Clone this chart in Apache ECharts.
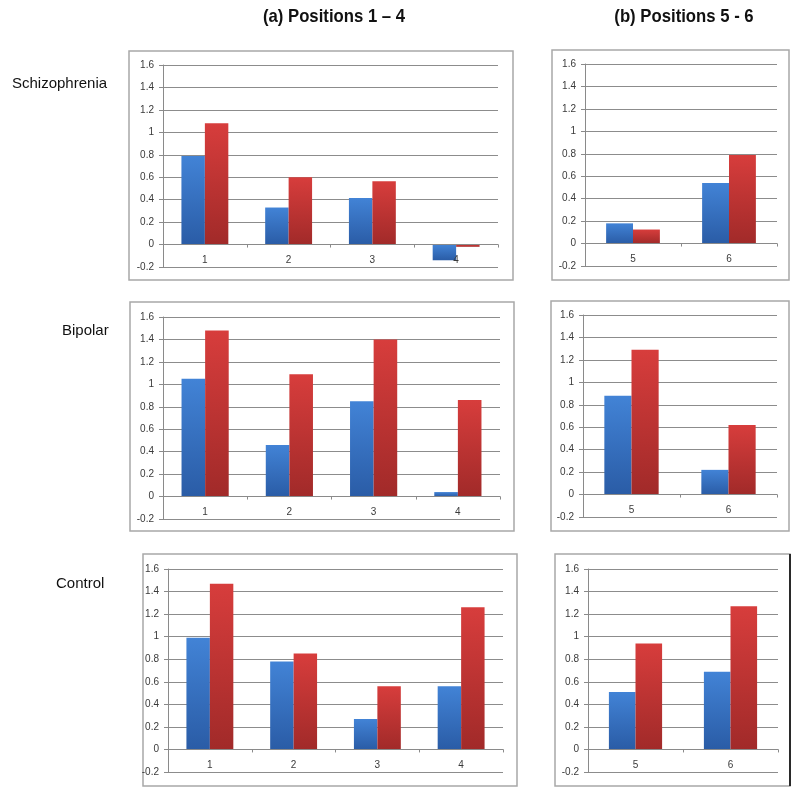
<!DOCTYPE html>
<html><head><meta charset="utf-8">
<script src="https://cdn.jsdelivr.net/npm/echarts@6/dist/echarts.min.js"></script>
<style>html,body{margin:0;padding:0;background:#fff}#c{width:800px;height:794px}</style>
</head><body><div id="c"></div>
<script>
// ---- data ----
const catsA = ['1', '2', '3', '4'];
const catsB = ['5', '6'];
const yMin = -0.2, yMax = 1.6, yStep = 0.2;

const schizA_blue = [0.79, 0.33, 0.415, -0.14];
const schizA_red  = [1.08, 0.60, 0.565, -0.02];
const schizB_blue = [0.18, 0.54];
const schizB_red  = [0.125, 0.79];

const bipolarA_blue = [1.05, 0.46, 0.85, 0.04];
const bipolarA_red  = [1.48, 1.09, 1.40, 0.86];
const bipolarB_blue = [0.88, 0.22];
const bipolarB_red  = [1.29, 0.62];

const controlA_blue = [0.99, 0.78, 0.27, 0.56];
const controlA_red  = [1.47, 0.85, 0.56, 1.26];
const controlB_blue = [0.51, 0.69];
const controlB_red  = [0.94, 1.27];

const colTitles = ['(a) Positions 1 \u2013 4', '(b) Positions 5 - 6'];
const rowTitles = ['Schizophrenia', 'Bipolar', 'Control'];

// ---- layout ----
const panels = [
  {cats: catsA, blue: schizA_blue,   red: schizA_red,   grid: {left: 163, top: 65,  width: 335, height: 202}, box: [129, 51, 384, 229]},
  {cats: catsB, blue: schizB_blue,   red: schizB_red,   grid: {left: 585, top: 64,  width: 192, height: 202}, box: [552, 50, 237, 230]},
  {cats: catsA, blue: bipolarA_blue, red: bipolarA_red, grid: {left: 163, top: 317, width: 337, height: 202}, box: [130, 302, 384, 229]},
  {cats: catsB, blue: bipolarB_blue, red: bipolarB_red, grid: {left: 583, top: 315, width: 194, height: 202}, box: [551, 301, 238, 230]},
  {cats: catsA, blue: controlA_blue, red: controlA_red, grid: {left: 168, top: 569, width: 335, height: 203}, box: [143, 554, 374, 232]},
  {cats: catsB, blue: controlB_blue, red: controlB_red, grid: {left: 588, top: 569, width: 190, height: 203}, box: [555, 554, 235, 232]}
];

const blueGrad = new echarts.graphic.LinearGradient(0, 0, 0, 1, [
  {offset: 0, color: '#4283d6'}, {offset: 1, color: '#2a5ca6'}]);
const redGrad = new echarts.graphic.LinearGradient(0, 0, 0, 1, [
  {offset: 0, color: '#d73d3c'}, {offset: 1, color: '#a12a29'}]);

const labelFont = {fontFamily: 'Liberation Sans, Arial, sans-serif', fontSize: 10, color: '#3a3a3a'};

const grid = [], xAxis = [], yAxis = [], series = [], graphic = [];
panels.forEach((p, i) => {
  grid.push(Object.assign({}, p.grid));
  xAxis.push({
    type: 'category', gridIndex: i, data: p.cats, z: 3,
    axisLine: {onZero: true, lineStyle: {color: '#8a8a8a', width: 1}},
    axisTick: {show: true, length: 3, lineStyle: {color: '#8a8a8a'}},
    axisLabel: Object.assign({margin: -12}, labelFont),
    splitLine: {show: false}
  });
  yAxis.push({
    type: 'value', gridIndex: i, min: yMin, max: yMax, interval: yStep,
    axisLine: {show: true, lineStyle: {color: '#8a8a8a', width: 1}},
    axisTick: {show: true, length: 4, lineStyle: {color: '#8a8a8a'}},
    axisLabel: Object.assign({margin: 9, formatter: v => String(Math.round(v * 10) / 10)}, labelFont),
    splitLine: {show: true, lineStyle: {color: '#8c8c8c', width: 1}}
  });
  series.push({
    type: 'bar', xAxisIndex: i, yAxisIndex: i, data: p.blue,
    barWidth: '28%', barGap: '0%', itemStyle: {color: blueGrad}, silent: true
  });
  series.push({
    type: 'bar', xAxisIndex: i, yAxisIndex: i, data: p.red,
    barWidth: '28%', barGap: '0%', itemStyle: {color: redGrad}, silent: true
  });
  graphic.push({
    type: 'rect', shape: {x: p.box[0], y: p.box[1], width: p.box[2], height: p.box[3]},
    style: {fill: 'none', stroke: '#a8a8a8', lineWidth: 1.5}, z: -1, silent: true
  });
});

// darker right edge on the bottom-right box
graphic.push({type: 'line', shape: {x1: 790, y1: 554, x2: 790, y2: 786},
  style: {stroke: '#2a2a2a', lineWidth: 2}, silent: true});

const titleFont = '"Liberation Sans Narrow", "Arial Narrow", "Liberation Sans", sans-serif';
graphic.push({type: 'text', x: 334, y: 17, scaleX: 0.88, style: {text: colTitles[0], fill: '#111',
  font: 'bold 19px ' + titleFont, align: 'center', verticalAlign: 'middle'}, silent: true});
graphic.push({type: 'text', x: 684, y: 17, scaleX: 0.88, style: {text: colTitles[1], fill: '#111',
  font: 'bold 19px ' + titleFont, align: 'center', verticalAlign: 'middle'}, silent: true});

const rowPos = [[12, 84], [62, 331], [56, 584]];
rowTitles.forEach((t, i) => {
  graphic.push({type: 'text', x: rowPos[i][0], y: rowPos[i][1], style: {text: t, fill: '#111',
    font: '15px "Liberation Sans", Arial, sans-serif', align: 'left', verticalAlign: 'middle'}, silent: true});
});

const chart = echarts.init(document.getElementById('c'), null, {renderer: 'canvas'});
chart.setOption({animation: false, backgroundColor: '#fff', grid, xAxis, yAxis, series, graphic});
</script></body></html>
